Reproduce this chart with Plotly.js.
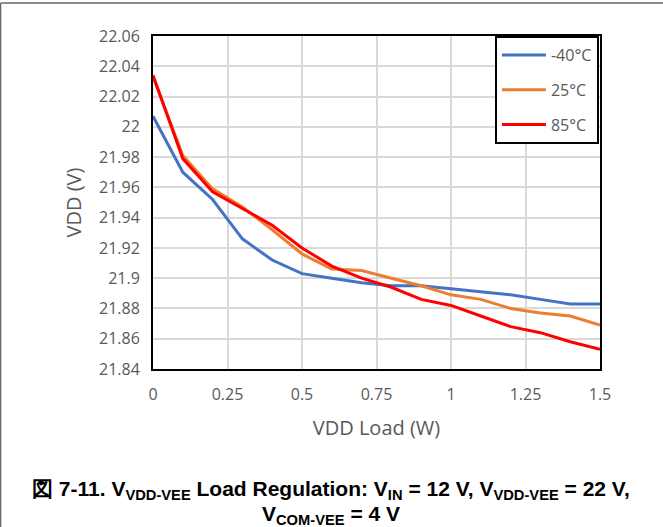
<!DOCTYPE html>
<html>
<head>
<meta charset="utf-8">
<script src="https://cdn.plot.ly/plotly-3.0.1.min.js"></script>
<style>html,body{margin:0;padding:0;background:#fff;}#chart{width:663px;height:527px;}</style>
</head>
<body>
<div id="chart"></div>
<script>
var loadW = [0, 0.1, 0.2, 0.3, 0.4, 0.5, 0.6, 0.7, 0.8, 0.9, 1.0, 1.1, 1.2, 1.3, 1.4, 1.5];
var vddM40 = [22.007, 21.970, 21.952, 21.926, 21.912, 21.903, 21.900, 21.897, 21.895, 21.895, 21.893, 21.891, 21.889, 21.886, 21.883, 21.883];
var vdd25 = [22.033, 21.981, 21.959, 21.947, 21.932, 21.916, 21.906, 21.905, 21.900, 21.895, 21.889, 21.886, 21.880, 21.877, 21.875, 21.869];
var vdd85 = [22.034, 21.979, 21.957, 21.946, 21.935, 21.920, 21.908, 21.900, 21.894, 21.886, 21.882, 21.875, 21.868, 21.864, 21.858, 21.853];
var seriesNames = ['-40°C', '25°C', '85°C'];
var xTitle = 'VDD Load (W)';
var yTitle = 'VDD (V)';
var caption1 = '図 7-11. V<sub>VDD-VEE</sub> Load Regulation: V<sub>IN</sub> = 12 V, V<sub>VDD-VEE</sub> = 22 V,';
var caption2 = 'V<sub>COM-VEE</sub> = 4 V';

var colors = ['#4472C4', '#ED7D31', '#FF0000'];
var ys = [vddM40, vdd25, vdd85];
var traces = ys.map(function (y, i) {
  return {
    x: loadW, y: y, name: seriesNames[i], type: 'scatter', mode: 'lines',
    legendgroup: 'g' + i,
    line: {color: colors[i], width: 3}
  };
});

var tickFont = {family: 'Open Sans, sans-serif', size: 16, color: '#595959'};
var capFont = {family: 'Liberation Sans, Arial, sans-serif', size: 21, color: '#000', weight: 'bold'};
var layout = {
  width: 663, height: 527,
  margin: {l: 153, r: 63, t: 36, b: 157.5},
  paper_bgcolor: '#fff', plot_bgcolor: '#fff',
  showlegend: true,
  legend: {
    x: 0.765, y: 1, xanchor: 'left', yanchor: 'top',
    bordercolor: '#000', borderwidth: 2, bgcolor: '#fff',
    font: {family: 'Open Sans, sans-serif', size: 16, color: '#595959'},
    tracegroupgap: 11, traceorder: 'grouped', itemwidth: 44
  },
  xaxis: {
    range: [0, 1.5], dtick: 0.25, tick0: 0,
    showgrid: true, gridcolor: '#d9d9d9', gridwidth: 2,
    zeroline: false, showline: true, mirror: true, linecolor: '#000', linewidth: 2,
    ticks: '', tickfont: tickFont, ticklabelstandoff: 10,
    title: {text: xTitle, font: {family: 'Open Sans, sans-serif', size: 20, color: '#595959'}, standoff: 17}
  },
  yaxis: {
    range: [21.84, 22.06], dtick: 0.02, tick0: 21.84,
    showgrid: true, gridcolor: '#d9d9d9', gridwidth: 2,
    zeroline: false, showline: true, mirror: true, linecolor: '#000', linewidth: 2,
    ticks: '', tickfont: tickFont, ticklabelstandoff: 8,
    title: {text: yTitle, font: {family: 'Open Sans, sans-serif', size: 20, color: '#595959'}, standoff: 12}
  },
  shapes: [
    {type: 'line', xref: 'paper', yref: 'paper', x0: -0.34, x1: 1.2, y0: 1.099, y1: 1.099, line: {color: '#666', width: 1.5}},
    {type: 'line', xref: 'paper', yref: 'paper', x0: -0.3411, x1: -0.3411, y0: 1.1, y1: -0.48, line: {color: '#666', width: 1.5}}
  ],
  annotations: [
    {xref: 'paper', yref: 'paper', x: 0.3993, y: -0.363, xanchor: 'center', yanchor: 'middle', showarrow: false,
     text: caption1, font: capFont},
    {xref: 'paper', yref: 'paper', x: 0.3993, y: -0.437, xanchor: 'center', yanchor: 'middle', showarrow: false,
     text: caption2, font: capFont}
  ]
};

Plotly.newPlot('chart', traces, layout, {displayModeBar: false, staticPlot: true});
</script>
</body>
</html>
